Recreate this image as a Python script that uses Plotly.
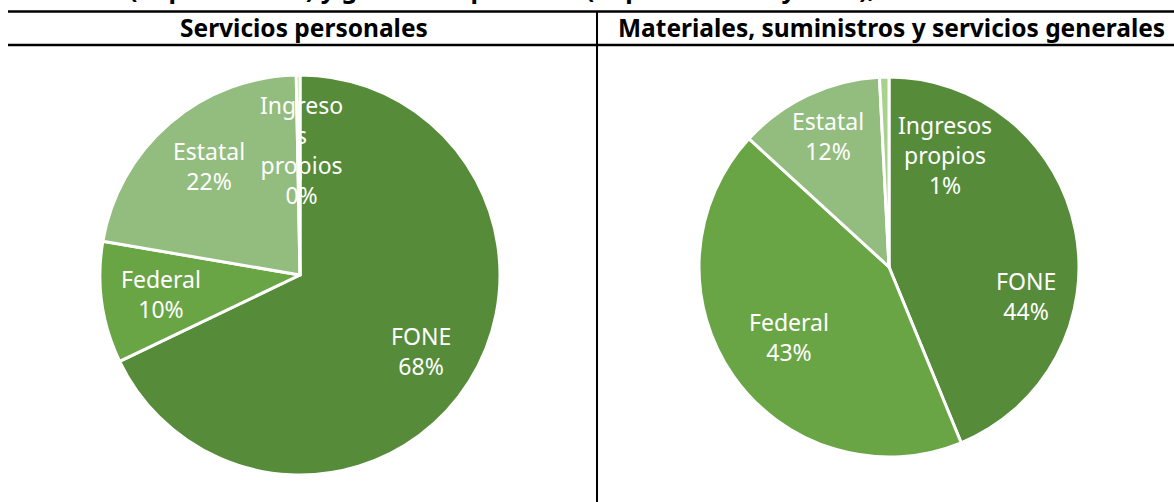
import math
import plotly.graph_objects as go

W, H = 1174, 502

categories = ["FONE", "Federal", "Estatal", "Ingresos propios"]
servicios_personales = [67.9, 9.8, 22.0, 0.3]
materiales_suministros = [43.8, 43.0, 12.4, 0.8]
colors = ["#568B3A", "#6AA545", "#93BD7E", "#A9D18E"]

title_text = "(Capítulo 1000) y gasto de operación (Capítulos 2000 y 3000), durante 2017"
header_left = "Servicios personales"
header_right = "Materiales, suministros y servicios generales"

# pie geometry in pixels (center x, center y, radius), label texts, label placement (radius fraction, angle shift deg)
pies = [
    (servicios_personales, (300, 275, 200),
     ["FONE<br>%{p}", "Federal<br>%{p}", "Estatal<br>%{p}", "Ingreso<br>s<br>propios<br>%{p}"],
     [(0.715, 0), (0.70, 0), (0.71, 1), (0.625, 1)]),
    (materiales_suministros, (889, 267, 190),
     ["FONE<br>%{p}", "Federal<br>%{p}", "Estatal<br>%{p}", "Ingresos<br>propios<br>%{p}"],
     [(0.737, 23), (0.64, 0), (0.76, 0), (0.66, 28)]),
]

fig = go.Figure()
annotations = []
FONT = "Noto Sans, Open Sans, sans-serif"

for values, (cx, cy, r), label_fmt, place in pies:
    fig.add_trace(go.Pie(
        labels=categories,
        values=values,
        sort=False,
        direction="clockwise",
        rotation=0,
        marker=dict(colors=colors, line=dict(color="white", width=3)),
        textinfo="none",
        hoverinfo="label+percent",
        showlegend=False,
        domain=dict(x=[(cx - r) / W, (cx + r) / W], y=[1 - (cy + r) / H, 1 - (cy - r) / H]),
    ))
    total = sum(values)
    cum = 0
    for i, v in enumerate(values):
        rf, dang = place[i]
        mid = (cum + v / 2) / total * 2 * math.pi + math.radians(dang)
        cum += v
        px = cx + rf * r * math.sin(mid)
        py = cy - rf * r * math.cos(mid)
        pct = f"{round(v / total * 100):d}%"
        annotations.append(dict(
            x=px / W, y=1 - py / H, xref="paper", yref="paper",
            text=label_fmt[i].replace("%{p}", pct), showarrow=False,
            font=dict(family=FONT, size=23, color="white"),
            align="center", xanchor="center", yanchor="middle",
        ))

annotations.append(dict(x=587 / W, y=1 + 12 / H, xref="paper", yref="paper", text=f"<b>{title_text}</b>",
                        showarrow=False, font=dict(family=FONT, size=25, color="black"),
                        xanchor="center", yanchor="middle"))
annotations.append(dict(x=304 / W, y=1 - 28 / H, xref="paper", yref="paper", text=f"<b>{header_left}</b>",
                        showarrow=False, font=dict(family=FONT, size=24.5, color="black"),
                        xanchor="center", yanchor="middle"))
annotations.append(dict(x=891 / W, y=1 - 28 / H, xref="paper", yref="paper", text=f"<b>{header_right}</b>",
                        showarrow=False, font=dict(family=FONT, size=24.5, color="black"),
                        xanchor="center", yanchor="middle"))

shapes = [
    dict(type="line", xref="paper", yref="paper", x0=8 / W, x1=1, y0=1 - 11.5 / H, y1=1 - 11.5 / H,
         line=dict(color="black", width=2.5), layer="above"),
    dict(type="line", xref="paper", yref="paper", x0=8 / W, x1=1, y0=1 - 45 / H, y1=1 - 45 / H,
         line=dict(color="black", width=2.5), layer="above"),
    dict(type="line", xref="paper", yref="paper", x0=597 / W, x1=597 / W, y0=0, y1=1 - 11 / H,
         line=dict(color="black", width=2), layer="above"),
]

fig.update_layout(
    width=W, height=H,
    margin=dict(l=0, r=0, t=0, b=0),
    paper_bgcolor="white", plot_bgcolor="white",
    annotations=annotations, shapes=shapes,
    showlegend=False,
)

fig.write_html("out.html", config={"displayModeBar": False},
               post_script="document.body.style.margin='0';document.body.style.overflow='hidden';")
